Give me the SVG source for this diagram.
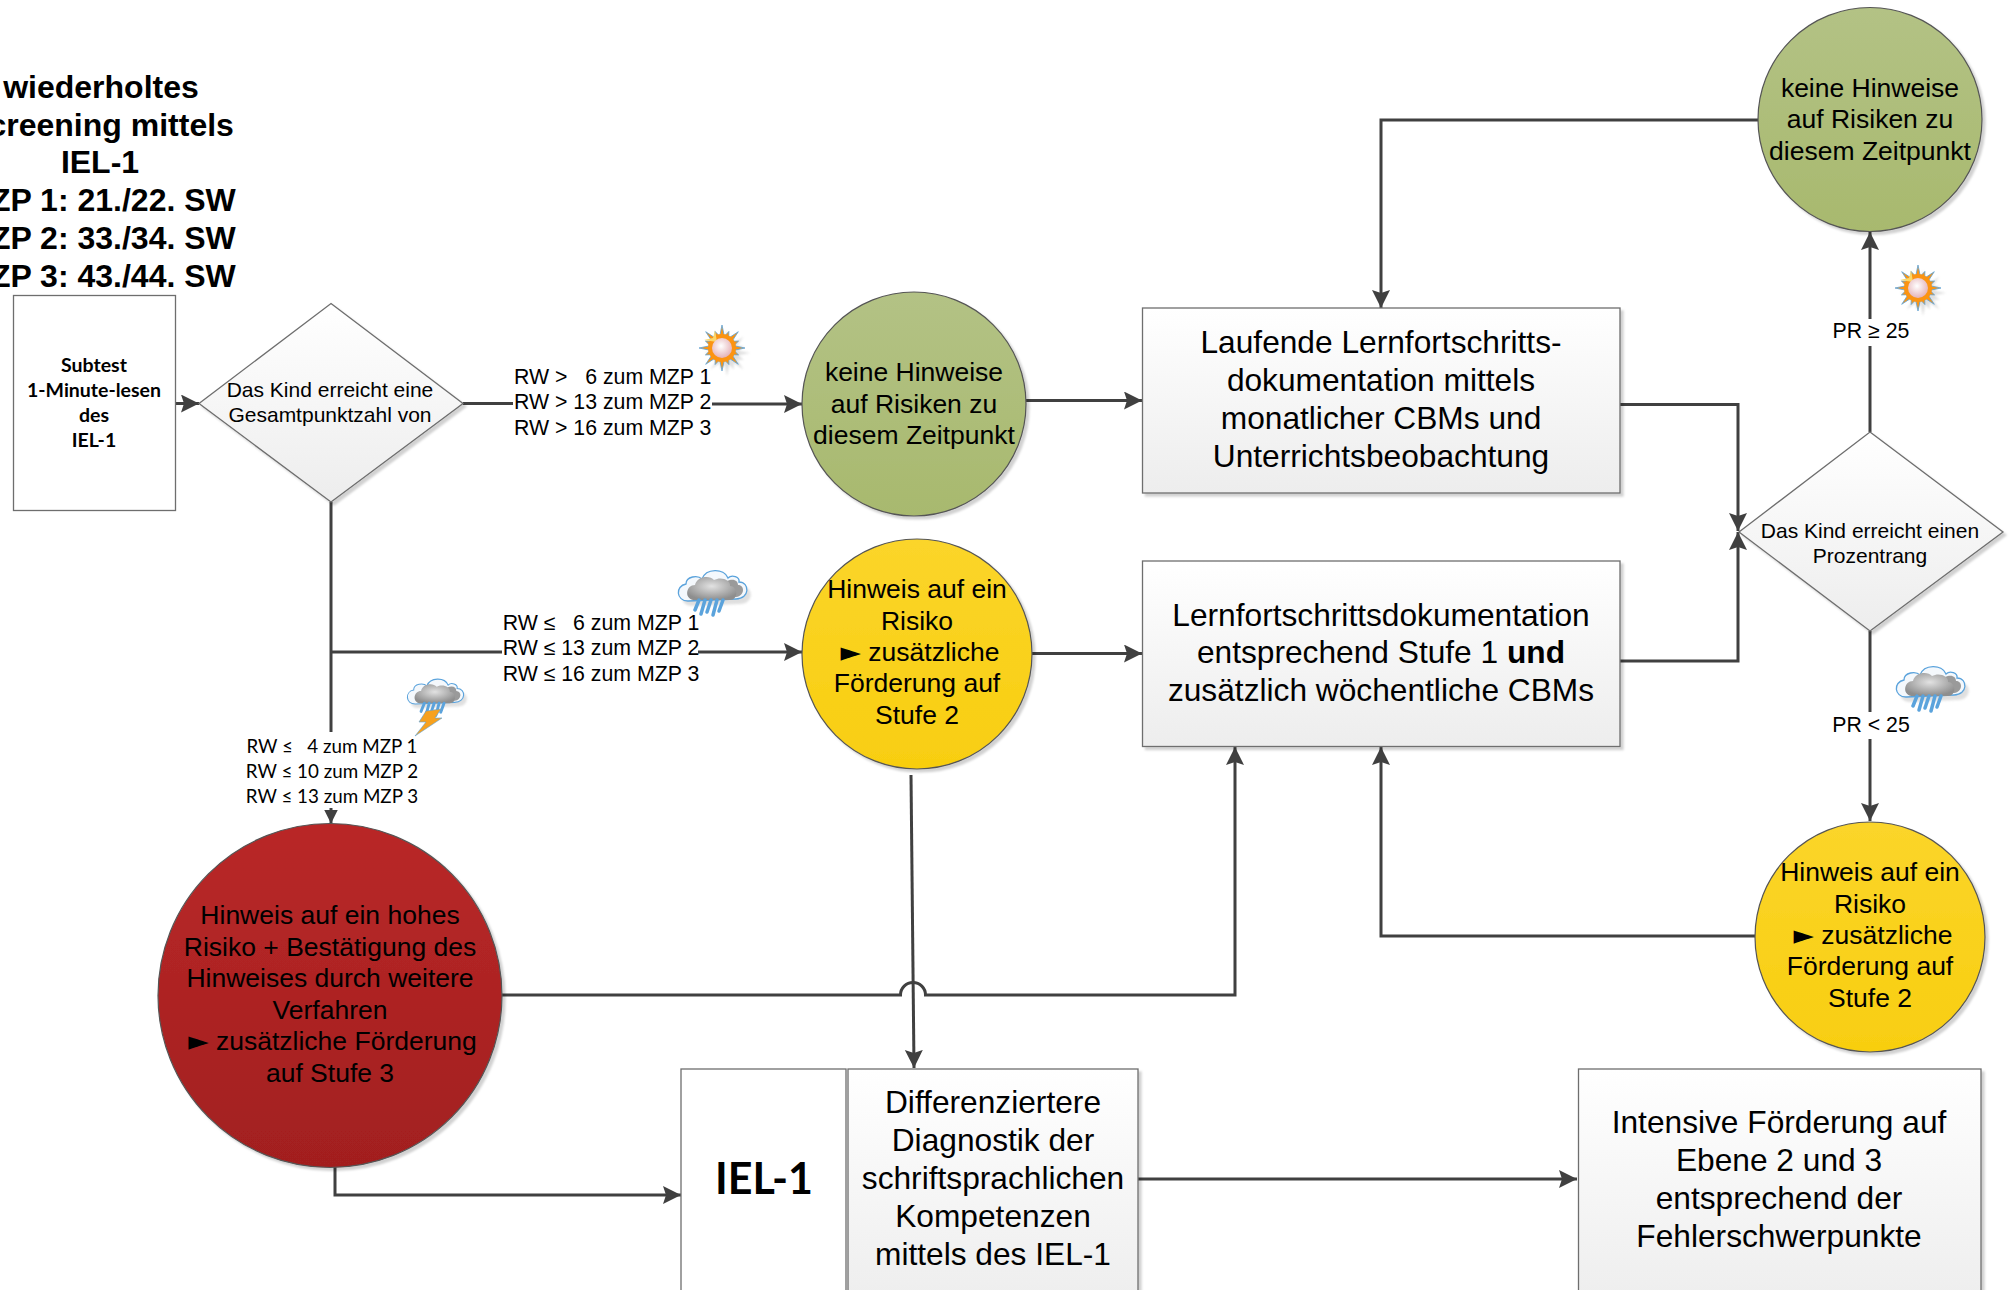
<svg xmlns="http://www.w3.org/2000/svg" width="2011" height="1290" viewBox="0 0 2011 1290">
<style>
text{font-family:"Liberation Sans",Arial,sans-serif;fill:#000;text-anchor:middle;white-space:pre}
.t{font-size:32px;font-weight:bold}
.c{font-size:26.5px}
.b{font-size:31.7px}
.d{font-size:21px}
.l{font-size:21.3px}
.ls{font-family:Lato,"Open Sans",sans-serif;font-size:18.8px}
.lb{font-family:Lato,"Open Sans",sans-serif;font-weight:bold;font-size:19.5px}
.tri{font-family:"DejaVu Sans",sans-serif}
.box{fill:url(#g);stroke:#6e6e6e;stroke-width:1.3;filter:url(#sh)}
.wbox{fill:#fff;stroke:#6e6e6e;stroke-width:1.3}
.circ{stroke:#555;stroke-width:1.2;filter:url(#sh)}
.con{fill:none;stroke:#404040;stroke-width:3}
</style>
<defs>
<linearGradient id="g" x1="0" y1="0" x2="0" y2="1"><stop offset="0" stop-color="#fff"/><stop offset="1" stop-color="#ededed"/></linearGradient>
<linearGradient id="gr" x1="0" y1="0" x2="0" y2="1"><stop offset="0" stop-color="#b3c285"/><stop offset="1" stop-color="#a8b96e"/></linearGradient>
<linearGradient id="ye" x1="0" y1="0" x2="0" y2="1"><stop offset="0" stop-color="#fbd52a"/><stop offset="1" stop-color="#f8ce10"/></linearGradient>
<linearGradient id="re" x1="0" y1="0" x2="0" y2="1"><stop offset="0" stop-color="#b92828"/><stop offset="1" stop-color="#a21f1f"/></linearGradient>
<radialGradient id="disk" cx=".45" cy=".4" r=".7"><stop offset="0" stop-color="#fff"/><stop offset="1" stop-color="#e0a6ac"/></radialGradient>
<radialGradient id="gc" cx=".5" cy=".4" r=".6"><stop offset="0" stop-color="#e2e2e2"/><stop offset="1" stop-color="#8e8e8e"/></radialGradient>
<filter id="sh" x="-5%" y="-5%" width="112%" height="112%"><feDropShadow dx="3" dy="3" stdDeviation="1.2" flood-color="#000" flood-opacity=".18"/></filter>
<filter id="blur" x="-20%" y="-20%" width="140%" height="140%"><feGaussianBlur stdDeviation="1"/></filter>
<marker id="a" markerUnits="userSpaceOnUse" markerWidth="20" markerHeight="20" refX="18" refY="9" orient="auto"><path d="M0,0 L18,9 L0,18 L3,9 Z" fill="#404040"/></marker>
<marker id="as" markerUnits="userSpaceOnUse" markerWidth="16" markerHeight="16" refX="14" refY="7" orient="auto"><path d="M0,0 L14,7 L0,14 Z" fill="#404040"/></marker>
<polygon id="star" points="23,0 11.8,2.300 16.600,6.900 10,6.700 16.300,16.300 6.700,10 6.900,16.600 2.300,11.800 0,23 -2.300,11.800 -6.900,16.600 -6.700,10 -16.300,16.300 -10,6.700 -16.600,6.900 -11.800,2.300 -23,0 -11.800,-2.300 -16.600,-6.900 -10,-6.700 -16.300,-16.300 -6.700,-10 -6.900,-16.600 -2.300,-11.800 0,-23 2.300,-11.800 6.900,-16.600 6.700,-10 16.300,-16.300 10,-6.700 16.600,-6.900 11.800,-2.300"/>
<g id="sun">
<use href="#star" x="5" y="5" fill="#999" opacity=".3" filter="url(#blur)"/>
<use href="#star" fill="#fb9412" stroke="#5ba3dc" stroke-width=".8"/>
<circle r="14" fill="#fb9412"/><path d="M-18,-8 L-9,-10 L-7,-18 L-5,-6 Z" fill="#fbd76a"/>
<circle r="10" fill="url(#disk)"/>
</g>
<g id="cloud">
<path d="M-24,11 C-36,11 -37,-4 -26,-6 C-26,-14 -14,-15 -10,-11 C-6,-22 12,-22 16,-12 C20,-16 28,-13 27,-8 C38,-8 38,9 24,9 Z" transform="translate(4,5)" fill="#999" opacity=".3" filter="url(#blur)"/>
<path d="M-24,11 C-36,11 -37,-4 -26,-6 C-26,-14 -14,-15 -10,-11 C-6,-22 12,-22 16,-12 C20,-16 28,-13 27,-8 C38,-8 38,9 24,9 Z" fill="#f4f8fc" stroke="#5ba3dc" stroke-width="1.3"/>
<path d="M15,-9 C22,-12 26,-9 26,-5 C33,-5 33,6 24,7 L12,7 Z" fill="#9a9a9a"/>
<path d="M-19,10 C-28,8 -26,-5 -17,-5 C-15,-14 -2,-15 2,-10 C9,-14 19,-10 18,-4 C26,-4 27,10 18,10 Z" fill="url(#gc)"/>
<g stroke="#5ba3dc" stroke-width="3.500" stroke-linecap="round" fill="none"><path d="M-13,10 L-17,20"/><path d="M-7,10 L-11,24"/><path d="M-1,10 L-5,22"/><path d="M5,10 L1,25"/><path d="M11,10 L7,21"/></g>
</g>
</defs>
<rect width="2011" height="1290" fill="#fff"/>

<g id="connectors" class="con">
<path d="M175,403.500 H199" marker-end="url(#a)"/>
<path d="M463,403.500 H513"/>
<path d="M712,404 H802" marker-end="url(#a)"/>
<path d="M331,502 V732"/>
<path d="M331,652 H502"/>
<path d="M698,652 H802" marker-end="url(#a)"/>
<path d="M331,808 V823.500" marker-end="url(#as)"/>
<path d="M1026,400.500 H1142" marker-end="url(#a)"/>
<path d="M1032,653.500 H1142" marker-end="url(#a)"/>
<path d="M1758,120 H1381 V308" marker-end="url(#a)"/>
<path d="M1620,404.500 H1738 V531" marker-end="url(#a)"/>
<path d="M1620,661 H1738 V532" marker-end="url(#a)"/>
<path d="M1870,432 V346"/>
<path d="M1870,319 V232" marker-end="url(#a)"/>
<path d="M1870,631 V712"/>
<path d="M1870,739 V821" marker-end="url(#a)"/>
<path d="M1755,936 H1381 V747" marker-end="url(#a)"/>
<path d="M502,995 H900.500 A12.500,12.500 0 0 1 925.500,995 H1235 V747" marker-end="url(#a)"/>
<path d="M911,775 L914,1068" marker-end="url(#a)"/>
<path d="M335,1166 V1195 H681" marker-end="url(#a)"/>
<path d="M1138,1179 H1577" marker-end="url(#a)"/>
</g>

<g id="title">
<text class="t" x="101" y="98">wiederholtes</text>
<text class="t" x="100.500" y="135.500">Screening mittels</text>
<text class="t" x="100" y="173">IEL-1</text>
<text class="t" x="100" y="211">MZP 1: 21./22. SW</text>
<text class="t" x="100" y="249">MZP 2: 33./34. SW</text>
<text class="t" x="100" y="287">MZP 3: 43./44. SW</text>
</g>

<g id="n-subtest">
<rect class="wbox" x="13.500" y="295.500" width="162" height="215"/>
<text class="lb" x="94" y="371.500">Subtest</text>
<text class="lb" x="94" y="396.500">1-Minute-lesen</text>
<text class="lb" x="94" y="421.500">des</text>
<text class="lb" x="94" y="447">IEL-1</text>
</g>
<g id="n-decision1">
<polygon class="box" points="331,303.500 463,403.500 331,502 199,403.500"/>
<text class="d" x="330" y="397">Das Kind erreicht eine</text>
<text class="d" x="330" y="421.500">Gesamtpunktzahl von</text>
</g>
<g id="n-green1">
<circle class="circ" cx="914" cy="404" r="112" fill="url(#gr)"/>
<text class="c" x="914" y="381">keine Hinweise</text>
<text class="c" x="914" y="413">auf Risiken zu</text>
<text class="c" x="914" y="444">diesem Zeitpunkt</text>
</g>
<g id="n-yellow1">
<circle class="circ" cx="917" cy="654" r="115" fill="url(#ye)"/>
<text class="c" x="917" y="598">Hinweis auf ein</text>
<text class="c" x="917" y="630">Risiko</text>
<text class="c" x="920" y="661"><tspan class="tri">►</tspan> zusätzliche</text>
<text class="c" x="917" y="692">Förderung auf</text>
<text class="c" x="917" y="724">Stufe 2</text>
</g>
<g id="n-red">
<circle class="circ" cx="330" cy="995.500" r="172" fill="url(#re)"/>
<text class="c" x="330" y="924">Hinweis auf ein hohes</text>
<text class="c" x="330" y="956">Risiko + Bestätigung des</text>
<text class="c" x="330" y="987">Hinweises durch weitere</text>
<text class="c" x="330" y="1019">Verfahren</text>
<text class="c" x="332.500" y="1050"><tspan class="tri">►</tspan> zusätzliche Förderung</text>
<text class="c" x="330" y="1082">auf Stufe 3</text>
</g>
<g id="n-box1">
<rect class="box" x="1142.500" y="308" width="477.500" height="185"/>
<text class="b" x="1381" y="353">Laufende Lernfortschritts-</text>
<text class="b" x="1381" y="391">dokumentation mittels</text>
<text class="b" x="1381" y="429">monatlicher CBMs und</text>
<text class="b" x="1381" y="467">Unterrichtsbeobachtung</text>
</g>
<g id="n-box2">
<rect class="box" x="1142.500" y="561" width="477.500" height="185.500"/>
<text class="b" x="1381" y="625.500">Lernfortschrittsdokumentation</text>
<text class="b" x="1381" y="663">entsprechend Stufe 1 <tspan font-weight="bold">und</tspan></text>
<text class="b" x="1381" y="700.500">zusätzlich wöchentliche CBMs</text>
</g>
<g id="n-green2">
<circle class="circ" cx="1870" cy="119.500" r="112" fill="url(#gr)"/>
<text class="c" x="1870" y="97">keine Hinweise</text>
<text class="c" x="1870" y="128">auf Risiken zu</text>
<text class="c" x="1870" y="160">diesem Zeitpunkt</text>
</g>
<g id="n-decision2">
<polygon class="box" points="1870,432 2003,532 1870,631 1739,532"/>
<text class="d" x="1870" y="538">Das Kind erreicht einen</text>
<text class="d" x="1870" y="562.500">Prozentrang</text>
</g>
<g id="n-yellow2">
<circle class="circ" cx="1870" cy="937" r="115" fill="url(#ye)"/>
<text class="c" x="1870" y="881">Hinweis auf ein</text>
<text class="c" x="1870" y="913">Risiko</text>
<text class="c" x="1873" y="944"><tspan class="tri">►</tspan> zusätzliche</text>
<text class="c" x="1870" y="975">Förderung auf</text>
<text class="c" x="1870" y="1007">Stufe 2</text>
</g>
<g id="n-iel">
<rect class="wbox" x="681" y="1069" width="165" height="240"/>
<text x="764" y="1194" style="font-family:Lato,'Open Sans',sans-serif;font-weight:bold;font-size:43px">IEL-1</text>
</g>
<g id="n-diag">
<rect class="box" x="848" y="1069" width="290" height="240"/>
<text class="b" x="993" y="1113">Differenziertere</text>
<text class="b" x="993" y="1151">Diagnostik der</text>
<text class="b" x="993" y="1189">schriftsprachlichen</text>
<text class="b" x="993" y="1227">Kompetenzen</text>
<text class="b" x="993" y="1265">mittels des IEL-1</text>
</g>
<g id="n-intensive">
<rect class="box" x="1578.500" y="1069" width="402.500" height="240"/>
<text class="b" x="1779" y="1133">Intensive Förderung auf</text>
<text class="b" x="1779" y="1170.500">Ebene 2 und 3</text>
<text class="b" x="1779" y="1208.500">entsprechend der</text>
<text class="b" x="1779" y="1246.500">Fehlerschwerpunkte</text>
</g>

<g id="labels">
<text class="l" x="514" y="383.500" style="text-anchor:start">RW &gt;   6 zum MZP 1</text>
<text class="l" x="514" y="408.500" style="text-anchor:start">RW &gt; 13 zum MZP 2</text>
<text class="l" x="514" y="434.500" style="text-anchor:start">RW &gt; 16 zum MZP 3</text>
<text class="l" x="601" y="629.500">RW ≤   6 zum MZP 1</text>
<text class="l" x="601" y="654.500">RW ≤ 13 zum MZP 2</text>
<text class="l" x="601" y="680.500">RW ≤ 16 zum MZP 3</text>
<text class="ls" x="332" y="753">RW ≤   4 zum MZP 1</text>
<text class="ls" x="332" y="778">RW ≤ 10 zum MZP 2</text>
<text class="ls" x="332" y="803">RW ≤ 13 zum MZP 3</text>
<text class="l" x="1871" y="337.500">PR ≥ 25</text>
<text class="l" x="1871" y="731.500">PR &lt; 25</text>
</g>

<g id="icons">
<use href="#sun" x="722" y="348"/>
<use href="#sun" x="1918" y="288"/>
<use href="#cloud" x="712" y="590"/>
<use href="#cloud" x="1930" y="686"/>
<g transform="translate(435,695) scale(.82)"><use href="#cloud"/></g>
<polygon points="426,711 441,709 435,718 442,718 415,736 426,722 419,722" fill="#f7a11e" stroke="#5ba3dc" stroke-width=".6"/>
</g>
</svg>
